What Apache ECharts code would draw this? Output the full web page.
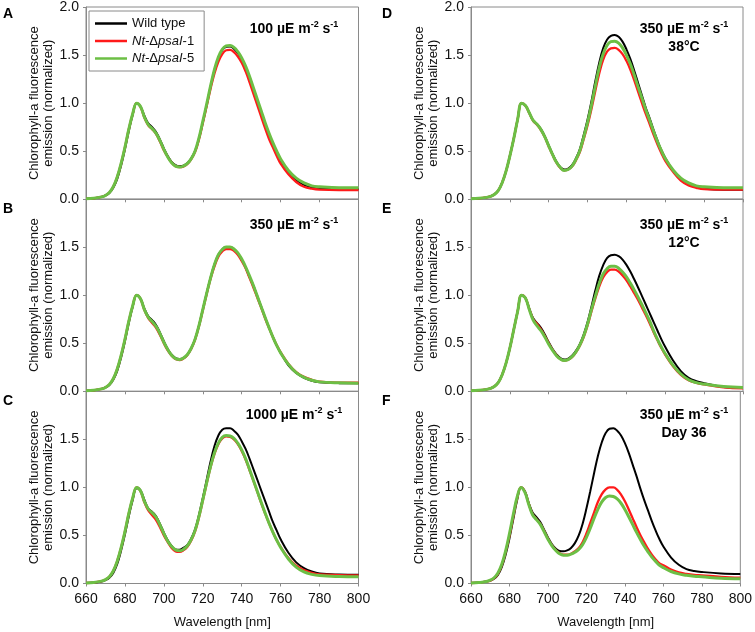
<!DOCTYPE html>
<html><head><meta charset="utf-8">
<script src="https://cdn.jsdelivr.net/npm/echarts@6/dist/echarts.min.js"></script>
<style>html,body{margin:0;padding:0;background:#fff}#c{width:755px;height:632px}</style>
</head><body><div id="c"></div>
<script>
// ---------- data ----------
const wavelength = [660,664,668,670,672,674,676,678,680,682,684,686,688,690,692,694,696,698,700,702,704,706,708,710,712,714,716,718,720,722,724,726,728,730,732,734,736,738,740,742,744,746,748,750,752,754,756,758,760,764,768,772,776,780,790,800];
const xTickValues = [660,680,700,720,740,760,780,800];
const yTickValues = [0.0,0.5,1.0,1.5,2.0];
const seriesNames = ['Wild type','Nt-ΔpsaI-1','Nt-ΔpsaI-5'];
const panelLetters = ['A','B','C','D','E','F'];
const panelLabels = [
  ['100'], ['350'], ['1000'],
  ['350','38°C'], ['350','12°C'], ['350','Day 36']
];

// Panel A: 100 µE
const A_wt  = [.005,.01,.025,.04,.065,.12,.21,.35,.52,.71,.88,1.0,.965,.87,.79,.75,.70,.62,.53,.45,.39,.355,.345,.35,.375,.425,.50,.63,.80,.98,1.17,1.34,1.47,1.55,1.585,1.59,1.565,1.52,1.46,1.37,1.26,1.14,1.02,.90,.78,.67,.57,.48,.40,.28,.20,.15,.125,.115,.105,.105];
const A_m1  = [.005,.01,.025,.04,.07,.13,.23,.37,.54,.73,.89,1.0,.96,.85,.77,.73,.68,.60,.51,.44,.38,.345,.335,.34,.365,.415,.49,.62,.79,.97,1.15,1.31,1.43,1.51,1.55,1.555,1.53,1.485,1.42,1.33,1.22,1.10,.98,.86,.74,.63,.54,.45,.37,.26,.18,.13,.11,.10,.095,.095];
const A_m5  = [.005,.01,.025,.04,.07,.13,.23,.37,.54,.73,.89,1.0,.965,.855,.775,.735,.685,.61,.52,.44,.38,.345,.335,.345,.37,.42,.50,.635,.81,.99,1.18,1.35,1.48,1.56,1.595,1.60,1.58,1.535,1.47,1.385,1.28,1.16,1.04,.92,.80,.69,.59,.50,.42,.30,.22,.17,.14,.13,.12,.12];
// Panel B: 350 µE
const B_wt  = [.005,.01,.025,.04,.065,.12,.21,.35,.52,.71,.88,1.0,.965,.86,.78,.74,.69,.61,.52,.44,.38,.345,.335,.345,.38,.445,.54,.68,.85,1.02,1.18,1.32,1.42,1.475,1.50,1.50,1.48,1.435,1.37,1.29,1.19,1.10,.99,.88,.77,.665,.565,.475,.40,.27,.19,.14,.11,.095,.085,.083];
const B_m1  = [.005,.01,.025,.04,.07,.13,.23,.37,.54,.73,.89,1.0,.96,.845,.76,.71,.66,.585,.50,.425,.37,.335,.325,.34,.375,.44,.535,.675,.84,1.01,1.17,1.30,1.40,1.455,1.48,1.48,1.46,1.42,1.355,1.28,1.18,1.08,.975,.87,.76,.66,.565,.48,.405,.285,.20,.15,.12,.10,.09,.09];
const B_m5  = [.005,.01,.025,.04,.07,.13,.23,.37,.54,.73,.89,1.0,.962,.85,.77,.725,.675,.60,.51,.435,.375,.34,.33,.345,.38,.445,.54,.68,.85,1.02,1.18,1.32,1.42,1.475,1.50,1.50,1.48,1.44,1.375,1.295,1.20,1.10,.99,.88,.77,.665,.565,.475,.40,.28,.195,.145,.115,.098,.088,.085];
// Panel C: 1000 µE
const C_wt  = [.005,.01,.02,.035,.06,.11,.20,.34,.51,.70,.87,.99,.97,.87,.78,.745,.70,.62,.53,.45,.39,.355,.35,.37,.40,.465,.56,.71,.89,1.08,1.27,1.43,1.54,1.60,1.615,1.615,1.59,1.55,1.48,1.40,1.30,1.19,1.08,.97,.86,.75,.64,.55,.46,.32,.22,.16,.125,.105,.093,.09];
const C_m1  = [.005,.01,.025,.04,.07,.13,.23,.37,.54,.73,.89,1.0,.96,.845,.76,.71,.66,.585,.50,.43,.37,.335,.33,.345,.38,.445,.54,.685,.86,1.04,1.21,1.35,1.45,1.51,1.53,1.525,1.50,1.45,1.38,1.29,1.18,1.07,.955,.84,.73,.63,.535,.45,.38,.265,.185,.14,.11,.095,.088,.085];
const C_m5  = [.005,.01,.025,.04,.07,.13,.23,.37,.54,.73,.89,1.0,.965,.855,.775,.735,.69,.61,.52,.44,.385,.35,.34,.355,.39,.455,.55,.695,.87,1.05,1.22,1.36,1.46,1.52,1.54,1.535,1.51,1.46,1.39,1.30,1.19,1.075,.96,.845,.735,.63,.535,.45,.375,.255,.17,.12,.095,.082,.073,.07];
// Panel D: 350 µE, 38°C
const D_wt  = [.005,.01,.02,.03,.05,.09,.17,.29,.45,.63,.83,1.0,.975,.90,.82,.78,.73,.655,.56,.47,.39,.335,.31,.32,.355,.425,.52,.67,.83,1.02,1.23,1.42,1.57,1.66,1.70,1.71,1.69,1.64,1.56,1.46,1.34,1.21,1.08,.95,.84,.72,.61,.51,.43,.30,.205,.15,.125,.11,.10,.10];
const D_m1  = [.005,.01,.02,.03,.05,.09,.17,.29,.45,.63,.83,1.0,.975,.895,.815,.775,.72,.645,.55,.46,.38,.325,.30,.31,.34,.405,.49,.625,.77,.94,1.13,1.31,1.45,1.535,1.57,1.575,1.555,1.51,1.44,1.35,1.24,1.12,1.00,.885,.78,.67,.57,.48,.40,.285,.195,.145,.12,.105,.10,.10];
const D_m5  = [.005,.01,.02,.03,.05,.09,.17,.29,.45,.63,.83,1.0,.975,.90,.82,.78,.725,.65,.555,.465,.385,.33,.30,.31,.345,.415,.505,.645,.80,.98,1.18,1.37,1.51,1.60,1.64,1.645,1.625,1.575,1.50,1.41,1.295,1.17,1.05,.93,.82,.705,.60,.505,.425,.305,.22,.17,.14,.13,.12,.12];
// Panel E: 350 µE, 12°C
const E_wt  = [.005,.01,.02,.03,.05,.09,.17,.29,.45,.64,.83,1.0,.97,.86,.76,.71,.66,.59,.51,.44,.385,.345,.33,.34,.37,.42,.49,.59,.72,.88,1.05,1.20,1.31,1.385,1.415,1.42,1.405,1.37,1.315,1.245,1.165,1.08,.99,.90,.81,.72,.63,.54,.46,.32,.21,.14,.105,.085,.045,.035];
const E_m1  = [.005,.01,.02,.03,.05,.09,.17,.29,.45,.64,.83,1.0,.97,.855,.75,.70,.645,.575,.50,.43,.375,.335,.32,.33,.355,.405,.475,.565,.685,.83,.965,1.09,1.185,1.24,1.265,1.265,1.245,1.205,1.155,1.09,1.02,.95,.87,.79,.705,.615,.53,.45,.38,.26,.17,.115,.088,.072,.04,.03];
const E_m5  = [.005,.01,.02,.03,.05,.09,.17,.29,.45,.64,.83,1.0,.97,.85,.74,.68,.63,.565,.49,.425,.37,.335,.32,.33,.36,.41,.48,.575,.70,.85,.99,1.12,1.22,1.275,1.30,1.30,1.28,1.24,1.19,1.125,1.055,.98,.90,.815,.73,.63,.54,.46,.39,.27,.18,.12,.09,.075,.05,.04];
// Panel F: 350 µE, Day 36
const F_wt  = [.005,.01,.02,.03,.05,.09,.17,.30,.47,.67,.87,1.0,.96,.84,.74,.69,.64,.56,.48,.41,.365,.34,.335,.345,.37,.42,.50,.62,.78,.96,1.15,1.33,1.47,1.565,1.61,1.615,1.59,1.54,1.46,1.36,1.24,1.12,.99,.87,.76,.65,.55,.46,.385,.27,.195,.15,.13,.12,.105,.10];
const F_m1  = [.005,.01,.02,.03,.055,.10,.19,.33,.50,.70,.89,1.0,.955,.83,.72,.67,.62,.545,.465,.40,.35,.315,.30,.30,.31,.335,.37,.43,.52,.63,.74,.85,.93,.98,1.0,1.0,.975,.925,.855,.77,.68,.59,.505,.43,.36,.30,.25,.21,.19,.145,.115,.10,.09,.085,.07,.06];
const F_m5  = [.005,.01,.02,.035,.06,.11,.20,.34,.52,.72,.90,1.0,.95,.825,.715,.665,.615,.54,.46,.395,.345,.31,.295,.295,.305,.325,.355,.405,.48,.575,.68,.775,.85,.895,.91,.905,.88,.835,.77,.695,.615,.535,.46,.39,.33,.275,.23,.19,.165,.125,.10,.085,.075,.07,.055,.05];

const panelData = [[A_wt,A_m1,A_m5],[B_wt,B_m1,B_m5],[C_wt,C_m1,C_m5],[D_wt,D_m1,D_m5],[E_wt,E_m1,E_m5],[F_wt,F_m1,F_m5]];

// ---------- layout / style ----------
const FONT = '"Liberation Sans", Arial, Helvetica, sans-serif';
const colors = ['#000000','#ff1a1a','#6cbf45'];
const widths = [2, 2.3, 3];
const colLeft = [86, 471];
const colWidth = [272.5, 272];
const rowTop = [6, 199, 391.3];
const rowHeight = [193.3, 192.3, 192.2];
const axisGrey = '#8a8a8a';

const grids = [], xAxes = [], yAxes = [], series = [], graphics = [];
for (let p = 0; p < 6; p++) {
  const col = Math.floor(p / 3), row = p % 3;
  grids.push({left: colLeft[col], top: rowTop[row], width: colWidth[col], height: rowHeight[row],
    show: true, borderColor: axisGrey, borderWidth: 1, backgroundColor: 'transparent', containLabel: false});
  xAxes.push({
    gridIndex: p, type: 'value', min: xTickValues[0], max: xTickValues[xTickValues.length-1], interval: 20,
    axisLine: {show: true, lineStyle: {color: axisGrey, width: 1}},
    axisTick: {show: true, inside: false, length: 3, lineStyle: {color: axisGrey}},
    axisLabel: {show: row === 2, fontSize: 14, color: '#111', fontFamily: FONT, margin: 9},
    splitLine: {show: false},
    name: row === 2 ? 'Wavelength [nm]' : '', nameLocation: 'middle', nameGap: 32,
    nameTextStyle: {fontSize: 13, color: '#111', fontFamily: FONT}
  });
  yAxes.push({
    gridIndex: p, type: 'value', min: yTickValues[0], max: yTickValues[yTickValues.length-1], interval: 0.5,
    axisLine: {show: true, lineStyle: {color: axisGrey, width: 1}},
    axisTick: {show: true, inside: false, length: 3, lineStyle: {color: axisGrey}},
    axisLabel: {fontSize: 14, color: '#111', fontFamily: FONT, margin: 7,
      showMaxLabel: row === 0, formatter: v => v.toFixed(1)},
    splitLine: {show: false},
    name: 'Chlorophyll-a fluorescence\nemission (normalized)', nameLocation: 'middle', nameGap: 29,
    nameTextStyle: {fontSize: 13, color: '#111', fontFamily: FONT, lineHeight: 14}
  });
  for (let s = 0; s < 3; s++) {
    series.push({
      name: seriesNames[s], type: 'line', xAxisIndex: p, yAxisIndex: p,
      data: wavelength.map((w, i) => [w, panelData[p][s][i]]),
      showSymbol: false, symbol: 'none', smooth: 0.4,
      lineStyle: {color: colors[s], width: widths[s]}, itemStyle: {color: colors[s]},
      z: 2 + s, animation: false
    });
  }
  // panel letter
  graphics.push({type: 'text', x: col === 0 ? 3 : 382, y: rowTop[row] + (row === 0 ? 1 : 3),
    style: {text: panelLetters[p], fontSize: 14, fontWeight: 'bold', fontFamily: FONT, fill: '#000'}});
  // condition label
  const lab = panelLabels[p];
  let txt = '{b|' + lab[0] + ' µE m}{s|-2}{b| s}{s|-1}';
  if (lab.length > 1) txt += '\n{b|' + lab[1] + '}';
  const labY = [20, 216, 406][row];
  graphics.push({type: 'text', x: col === 0 ? 294 : 684, y: labY,
    style: {text: txt, align: 'center', verticalAlign: 'top', fill: '#000',
      rich: {
        b: {fontSize: 14, fontWeight: 'bold', fontFamily: FONT, lineHeight: 18, fill: '#000'},
        s: {fontSize: 9, fontWeight: 'bold', fontFamily: FONT, lineHeight: 12, verticalAlign: 'top', fill: '#000'}
      }}});
}

const legendRich = {
  'Wild type': '{n|Wild type}',
  'Nt-ΔpsaI-1': '{i|Nt-}{n|Δ}{i|psaI}{n|-1}',
  'Nt-ΔpsaI-5': '{i|Nt-}{n|Δ}{i|psaI}{n|-5}'
};

const chart = echarts.init(document.getElementById('c'), null, {renderer: 'canvas'});
chart.setOption({
  animation: false,
  backgroundColor: '#fff',
  grid: grids, xAxis: xAxes, yAxis: yAxes, series: series,
  legend: {
    data: seriesNames, orient: 'vertical', left: 89, top: 11,
    backgroundColor: '#fff', borderColor: axisGrey, borderWidth: 1,
    padding: [5, 10, 5, 6], itemGap: 2.5, itemWidth: 32, itemHeight: 2.5, icon: 'rect',
    formatter: n => legendRich[n],
    textStyle: {fontSize: 13, fontFamily: FONT, color: '#111', lineHeight: 15,
      rich: {
        n: {fontSize: 13, fontFamily: FONT, color: '#111', lineHeight: 15},
        i: {fontSize: 13, fontFamily: FONT, color: '#111', fontStyle: 'italic', lineHeight: 15}
      }},
    selectedMode: false
  },
  graphic: graphics
});
</script></body></html>
